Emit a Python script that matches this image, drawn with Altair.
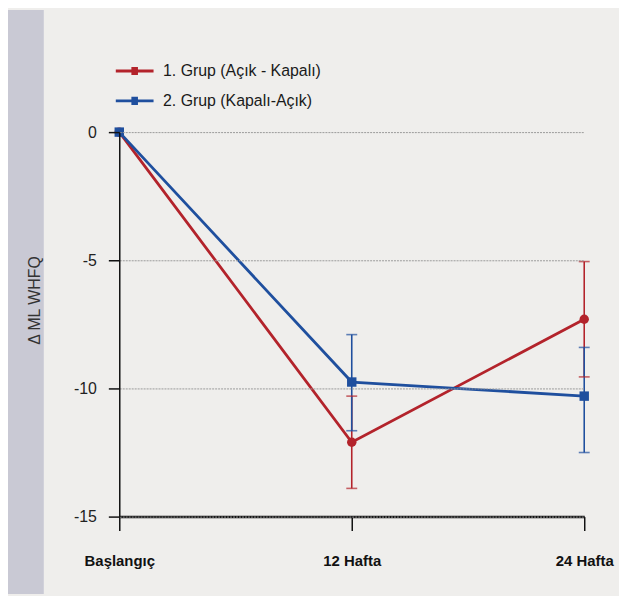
import altair as alt
import pandas as pd

timepoints = ["Başlangıç", "12 Hafta", "24 Hafta"]
groups = ["1. Grup (Açık - Kapalı)", "2. Grup (Kapalı-Açık)"]
group1_mean = [0, -12.1, -7.3]
group2_mean = [0, -9.75, -10.3]
group1_upper = [None, -10.3, -5.05]
group1_lower = [None, -13.9, -9.55]
group2_upper = [None, -7.9, -8.4]
group2_lower = [None, -11.65, -12.5]
y_ticks = [0, -5, -10, -15]
colors = ["#b3232b", "#1f4f9e"]
marker_shapes = ["circle", "square"]

means = [group1_mean, group2_mean]
uppers = [group1_upper, group2_upper]
lowers = [group1_lower, group2_lower]

rows, err_rows, cap_rows = [], [], []
for g, name in enumerate(groups):
    for i, t in enumerate(timepoints):
        rows.append({"time": t, "group": name, "mean": means[g][i]})
        if uppers[g][i] is not None:
            err_rows.append({"time": t, "group": name,
                             "upper": uppers[g][i], "lower": lowers[g][i]})
            cap_rows.append({"time": t, "group": name, "val": uppers[g][i]})
            cap_rows.append({"time": t, "group": name, "val": lowers[g][i]})

df = pd.DataFrame(rows)
err_df = pd.DataFrame(err_rows)
cap_df = pd.DataFrame(cap_rows)

x_enc = alt.X("time:N", sort=timepoints,
              scale=alt.Scale(type="point", padding=0, domain=timepoints),
              axis=alt.Axis(title=None, labelAngle=0, domainColor="#111",
                            domainWidth=2.5, tickColor="#111", tickSize=14,
                            tickWidth=1.5, labelPadding=23, labelFontSize=15,
                            labelFontWeight="bold", labelColor="#111",
                            labelFont="Liberation Sans", grid=False))
y_scale = alt.Scale(domain=[-15, 0], nice=False, zero=False)
y_axis = alt.Axis(values=y_ticks, labelExpr="'' + datum.value",
                  domainColor="#111", domainWidth=1.5, tickColor="#111",
                  tickSize=11, tickWidth=1.5, labelPadding=12,
                  labelFontSize=16, labelColor="#222",
                  labelFont="Liberation Sans", grid=True,
                  gridColor="#9a9a9a", gridDash=[2, 1], gridWidth=1,
                  title="Δ ML WHFQ", titleFontSize=16,
                  titleFontWeight="normal", titleFont="Liberation Sans",
                  titleColor="#333", titleX=-85, titleY=169,
                  titleAlign="center", titleBaseline="middle", titleAngle=270,
                  zindex=1)

color_scale = alt.Scale(domain=groups, range=colors)

legend_path = ("M-1.9,0L1.9,0M-0.33,-0.27L0.33,-0.27"
               "M-0.33,0.27L0.33,0.27")
legend = alt.Legend(orient="none", legendX=4, legendY=-73, title=None,
                    symbolType=legend_path, symbolSize=400,
                    symbolStrokeWidth=2.8, labelFont="Liberation Sans",
                    labelFontSize=16, labelOffset=17, rowPadding=10,
                    padding=0, labelColor="#1a1a1a", labelLimit=400)

strip = alt.Chart(alt.Data(values=[{"s": 1}])).mark_rect(
    color="#c9c9d4").encode(
    x=alt.value(-112), x2=alt.value(-76), y=alt.value(-123), y2=alt.value(465))

lines = alt.Chart(df).mark_line(strokeWidth=2.8).encode(
    x=x_enc,
    y=alt.Y("mean:Q", scale=y_scale, axis=y_axis),
    color=alt.Color("group:N", scale=color_scale, legend=legend),
)

errs = alt.Chart(err_df).mark_rule(strokeWidth=1.6).encode(
    x=x_enc,
    y=alt.Y("lower:Q", scale=y_scale),
    y2="upper:Q",
    stroke=alt.Stroke("group:N", scale=color_scale, legend=None),
)

caps = alt.Chart(cap_df).mark_tick(size=11, thickness=1.6,
                                   orient="horizontal").encode(
    x=x_enc,
    y=alt.Y("val:Q", scale=y_scale),
    fill=alt.Fill("group:N", scale=color_scale, legend=None),
)

point_layers = []
for g, name in enumerate(groups):
    point_layers.append(
        alt.Chart(df).transform_filter(alt.datum.group == name)
        .mark_point(filled=True, opacity=1, size=90, shape=marker_shapes[g])
        .encode(
            x=x_enc,
            y=alt.Y("mean:Q", scale=y_scale),
            fill=alt.Fill("group:N", scale=color_scale, legend=None),
        )
    )

chart = alt.layer(strip, lines, errs, caps, *point_layers).properties(
    width=468, height=387,
    padding={"left": 0, "top": 0, "right": 5, "bottom": 0},
).configure(background="#efeeec").configure_view(stroke=None)

chart.save("out.html", embed_options={"renderer": "svg", "actions": False})
